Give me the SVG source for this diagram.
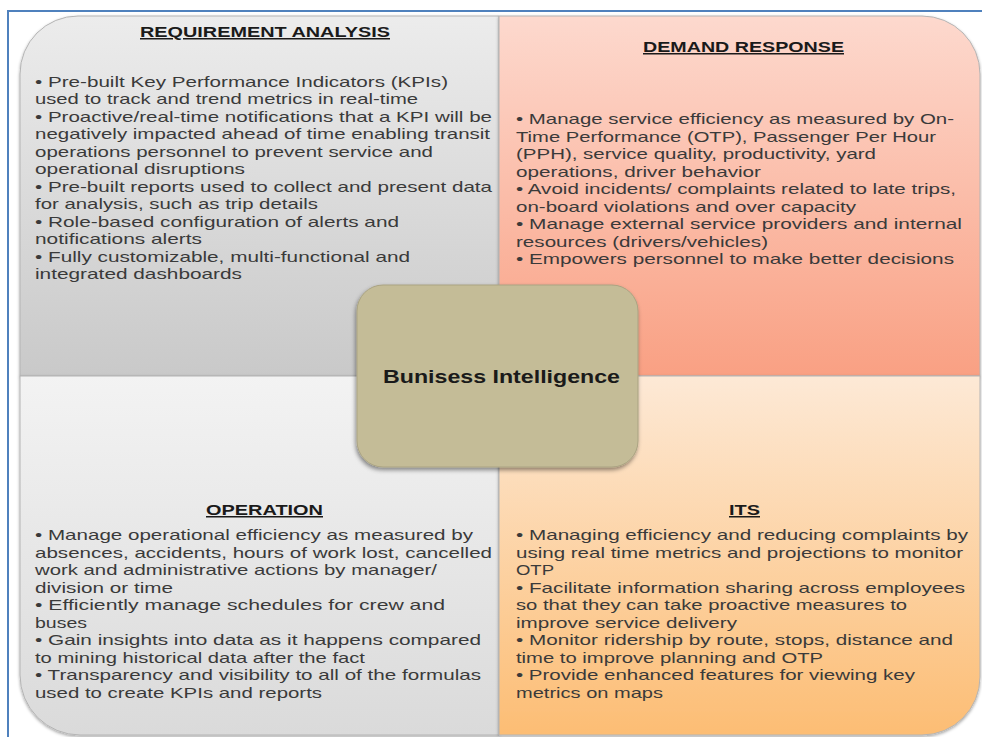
<svg xmlns="http://www.w3.org/2000/svg" width="982" height="737" viewBox="0 0 982 737">
<style>
.b{font-family:"Liberation Sans",Arial,sans-serif;font-size:15px;fill:#3a3a3a}
.t{font-family:"Liberation Sans",Arial,sans-serif;font-size:15px;font-weight:bold;fill:#1a1a1a;text-decoration:underline}
.c{font-family:"Liberation Sans",Arial,sans-serif;font-size:18px;font-weight:bold;fill:#1a1a1a}
.q{stroke:#b4b4b4;stroke-width:1;filter:url(#sh)}
</style>
<defs>
<linearGradient id="gTL" x1="0" y1="0" x2="0" y2="1"><stop offset="0" stop-color="#ececec"/><stop offset="1" stop-color="#c9c9c9"/></linearGradient>
<linearGradient id="gTR" x1="0" y1="0" x2="0" y2="1"><stop offset="0" stop-color="#fdd9ce"/><stop offset="1" stop-color="#f9a083"/></linearGradient>
<linearGradient id="gBL" x1="0" y1="0" x2="0" y2="1"><stop offset="0" stop-color="#f3f3f3"/><stop offset="1" stop-color="#dadada"/></linearGradient>
<linearGradient id="gBR" x1="0" y1="0" x2="0" y2="1"><stop offset="0" stop-color="#fde9d6"/><stop offset="1" stop-color="#fcbd74"/></linearGradient>
<filter id="sh" x="-5%" y="-5%" width="110%" height="110%"><feDropShadow dx="0" dy="1.5" stdDeviation="1.5" flood-color="#000" flood-opacity="0.35"/></filter>
<filter id="sh2" x="-10%" y="-10%" width="120%" height="125%"><feDropShadow dx="-1" dy="2.5" stdDeviation="2" flood-color="#000" flood-opacity="0.45"/></filter>
</defs>
<rect width="982" height="737" fill="#ffffff"/>
<path d="M8,737 L8,11 L982,11" fill="none" stroke="#4f81bd" stroke-width="2"/>

<g id="requirement-analysis">
<path class="q" d="M20,376 L20,74 A58,58 0 0 1 78,16 L499,16 L499,376 Z" fill="url(#gTL)"/>
<text class="t" x="140" y="37" textLength="250" lengthAdjust="spacingAndGlyphs">REQUIREMENT ANALYSIS</text>
<text class="b" x="35" y="86.5" textLength="413" lengthAdjust="spacingAndGlyphs">• Pre-built Key Performance Indicators (KPIs)</text>
<text class="b" x="35" y="104" textLength="383" lengthAdjust="spacingAndGlyphs">used to track and trend metrics in real-time</text>
<text class="b" x="35" y="121.5" textLength="457" lengthAdjust="spacingAndGlyphs">• Proactive/real-time notifications that a KPI will be</text>
<text class="b" x="35" y="139" textLength="455" lengthAdjust="spacingAndGlyphs">negatively impacted ahead of time enabling transit</text>
<text class="b" x="35" y="156.5" textLength="398" lengthAdjust="spacingAndGlyphs">operations personnel to prevent service and</text>
<text class="b" x="35" y="174" textLength="210" lengthAdjust="spacingAndGlyphs">operational disruptions</text>
<text class="b" x="35" y="191.5" textLength="457" lengthAdjust="spacingAndGlyphs">• Pre-built reports used to collect and present data</text>
<text class="b" x="35" y="209" textLength="283" lengthAdjust="spacingAndGlyphs">for analysis, such as trip details</text>
<text class="b" x="35" y="226.5" textLength="364" lengthAdjust="spacingAndGlyphs">• Role-based configuration of alerts and</text>
<text class="b" x="35" y="244" textLength="167" lengthAdjust="spacingAndGlyphs">notifications alerts</text>
<text class="b" x="35" y="261.5" textLength="375" lengthAdjust="spacingAndGlyphs">• Fully customizable, multi-functional and</text>
<text class="b" x="35" y="279" textLength="207" lengthAdjust="spacingAndGlyphs">integrated dashboards</text>
</g>

<g id="demand-response">
<path class="q" d="M499,16 L922,16 A58,58 0 0 1 980,74 L980,376 L499,376 Z" fill="url(#gTR)"/>
<text class="t" x="643" y="52" textLength="201" lengthAdjust="spacingAndGlyphs">DEMAND RESPONSE</text>
<text class="b" x="516" y="124" textLength="438" lengthAdjust="spacingAndGlyphs">• Manage service efficiency as measured by On-</text>
<text class="b" x="516" y="141.5" textLength="420" lengthAdjust="spacingAndGlyphs">Time Performance (OTP), Passenger Per Hour</text>
<text class="b" x="516" y="159" textLength="360" lengthAdjust="spacingAndGlyphs">(PPH), service quality, productivity, yard</text>
<text class="b" x="516" y="176.5" textLength="245" lengthAdjust="spacingAndGlyphs">operations, driver behavior</text>
<text class="b" x="516" y="194" textLength="440" lengthAdjust="spacingAndGlyphs">• Avoid incidents/ complaints related to late trips,</text>
<text class="b" x="516" y="211.5" textLength="340" lengthAdjust="spacingAndGlyphs">on-board violations and over capacity</text>
<text class="b" x="516" y="229" textLength="446" lengthAdjust="spacingAndGlyphs">• Manage external service providers and internal</text>
<text class="b" x="516" y="246.5" textLength="252" lengthAdjust="spacingAndGlyphs">resources (drivers/vehicles)</text>
<text class="b" x="516" y="264" textLength="438" lengthAdjust="spacingAndGlyphs">• Empowers personnel to make better decisions</text>
</g>

<g id="operation">
<path class="q" d="M20,376 L499,376 L499,735 L80,735 A60,60 0 0 1 20,675 Z" fill="url(#gBL)"/>
<text class="t" x="206" y="515" textLength="117" lengthAdjust="spacingAndGlyphs">OPERATION</text>
<text class="b" x="35" y="540" textLength="438" lengthAdjust="spacingAndGlyphs">• Manage operational efficiency as measured by</text>
<text class="b" x="35" y="557.5" textLength="457" lengthAdjust="spacingAndGlyphs">absences, accidents, hours of work lost, cancelled</text>
<text class="b" x="35" y="575" textLength="402" lengthAdjust="spacingAndGlyphs">work and administrative actions by manager/</text>
<text class="b" x="35" y="592.5" textLength="138" lengthAdjust="spacingAndGlyphs">division or time</text>
<text class="b" x="35" y="610" textLength="410" lengthAdjust="spacingAndGlyphs">• Efficiently manage schedules for crew and</text>
<text class="b" x="35" y="627.5" textLength="52" lengthAdjust="spacingAndGlyphs">buses</text>
<text class="b" x="35" y="645" textLength="446" lengthAdjust="spacingAndGlyphs">• Gain insights into data as it happens compared</text>
<text class="b" x="35" y="662.5" textLength="330" lengthAdjust="spacingAndGlyphs">to mining historical data after the fact</text>
<text class="b" x="35" y="680" textLength="446" lengthAdjust="spacingAndGlyphs">• Transparency and visibility to all of the formulas</text>
<text class="b" x="35" y="697.5" textLength="287" lengthAdjust="spacingAndGlyphs">used to create KPIs and reports</text>
</g>

<g id="its">
<path class="q" d="M499,376 L980,376 L980,677 A58,58 0 0 1 922,735 L499,735 Z" fill="url(#gBR)"/>
<text class="t" x="729" y="515" textLength="31" lengthAdjust="spacingAndGlyphs">ITS</text>
<text class="b" x="516" y="540" textLength="452" lengthAdjust="spacingAndGlyphs">• Managing efficiency and reducing complaints by</text>
<text class="b" x="516" y="557.5" textLength="447" lengthAdjust="spacingAndGlyphs">using real time metrics and projections to monitor</text>
<text class="b" x="516" y="575" textLength="38" lengthAdjust="spacingAndGlyphs">OTP</text>
<text class="b" x="516" y="592.5" textLength="449" lengthAdjust="spacingAndGlyphs">• Facilitate information sharing across employees</text>
<text class="b" x="516" y="610" textLength="391" lengthAdjust="spacingAndGlyphs">so that they can take proactive measures to</text>
<text class="b" x="516" y="627.5" textLength="221" lengthAdjust="spacingAndGlyphs">improve service delivery</text>
<text class="b" x="516" y="645" textLength="437" lengthAdjust="spacingAndGlyphs">• Monitor ridership by route, stops, distance and</text>
<text class="b" x="516" y="662.5" textLength="307" lengthAdjust="spacingAndGlyphs">time to improve planning and OTP</text>
<text class="b" x="516" y="680" textLength="399" lengthAdjust="spacingAndGlyphs">• Provide enhanced features for viewing key</text>
<text class="b" x="516" y="697.5" textLength="147" lengthAdjust="spacingAndGlyphs">metrics on maps</text>
</g>

<g id="connectors"></g>

<g id="business-intelligence">
<rect x="357" y="285" width="281" height="182" rx="26" fill="#c4bc97" stroke="#aaa382" stroke-width="1" filter="url(#sh2)"/>
<text class="c" x="383" y="383" textLength="237" lengthAdjust="spacingAndGlyphs">Bunisess Intelligence</text>
</g>
</svg>
